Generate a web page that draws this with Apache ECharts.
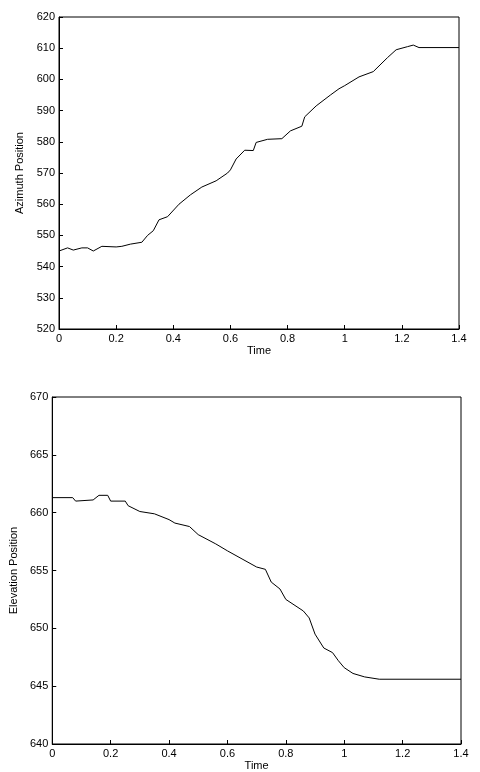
<!DOCTYPE html>
<html><head><meta charset="utf-8">
<script src="https://cdn.jsdelivr.net/npm/echarts@6/dist/echarts.min.js"></script>
<style>html,body{margin:0;padding:0;background:#fff}#c{width:480px;height:772px}</style>
</head><body><div id="c"></div>
<script>
const azTime=[0,0.03,0.05,0.08,0.1,0.12,0.15,0.2,0.22,0.25,0.29,0.31,0.33,0.35,0.38,0.42,0.46,0.5,0.55,0.59,0.6,0.62,0.65,0.68,0.69,0.73,0.78,0.81,0.85,0.86,0.9,0.95,0.98,1.0,1.05,1.1,1.15,1.18,1.22,1.24,1.26,1.4];
const azVal=[545,546,545.3,546,546,545,546.5,546.3,546.5,547.2,547.8,550,551.5,555,556,560,563,565.5,567.5,570,571,574.5,577.3,577.2,579.8,580.8,581,583.5,585,588,591.5,595,597,598,600.8,602.5,607,609.5,610.5,611,610.2,610.2];
const elTime=[0,0.07,0.08,0.14,0.16,0.19,0.2,0.25,0.26,0.3,0.35,0.4,0.42,0.47,0.5,0.56,0.6,0.65,0.7,0.73,0.75,0.78,0.8,0.86,0.88,0.9,0.93,0.96,0.98,1.0,1.03,1.07,1.12,1.4];
const elVal=[661.3,661.3,661,661.1,661.5,661.5,661,661,660.6,660.1,659.9,659.4,659.1,658.8,658.1,657.3,656.7,656,655.3,655.1,654,653.4,652.5,651.5,650.9,649.5,648.3,647.9,647.2,646.6,646.1,645.8,645.6,645.6];
const xTicks=['0','0.2','0.4','0.6','0.8','1','1.2','1.4'];
const font={fontFamily:'Liberation Sans, Arial',fontSize:11,color:'#000'};
function xa(i){return {type:'value',gridIndex:i,min:0,max:1.4,interval:0.2,name:'Time',nameLocation:'middle',nameGap:16,nameTextStyle:font,
 axisLine:{lineStyle:{color:'#000'}},axisTick:{inside:true,length:4,lineStyle:{color:'#000'}},splitLine:{show:false},
 axisLabel:Object.assign({margin:4,formatter:v=>xTicks[Math.round(v/0.2)]},font)};}
function ya(i,min,max,iv,name,gap){return {type:'value',gridIndex:i,min:min,max:max,interval:iv,name:name,nameLocation:'middle',nameGap:gap,nameTextStyle:font,
 axisLine:{lineStyle:{color:'#000'}},axisTick:{inside:true,length:4,lineStyle:{color:'#000'}},splitLine:{show:false},
 axisLabel:Object.assign({margin:4},font)};}
const chart=echarts.init(document.getElementById('c'));
chart.setOption({animation:false,backgroundColor:'#fff',
 grid:[{left:59,right:21,top:17,height:312,show:true,borderColor:'#000',borderWidth:1},
       {left:50,right:19,top:397,bottom:22,show:true,borderColor:'#000',borderWidth:1}],
 xAxis:[xa(0),xa(1)],
 yAxis:[ya(0,520,620,10,'Azimuth Position',28),ya(1,640,670,5,'Elevation Position',29)],
 series:[{type:'line',xAxisIndex:0,yAxisIndex:0,data:azTime.map((t,i)=>[t,azVal[i]]),showSymbol:false,lineStyle:{color:'#000',width:1}},
         {type:'line',xAxisIndex:1,yAxisIndex:1,data:elTime.map((t,i)=>[t,elVal[i]]),showSymbol:false,lineStyle:{color:'#000',width:1}}]
});
</script></body></html>
